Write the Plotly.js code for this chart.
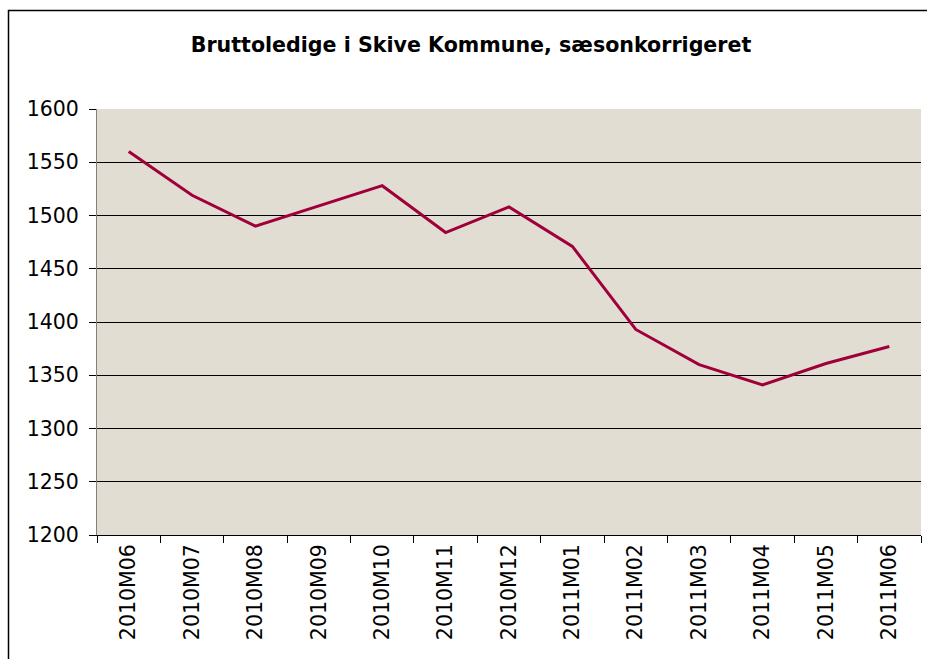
<!DOCTYPE html>
<html>
<head>
<meta charset="utf-8">
<script src="https://cdn.plot.ly/plotly-3.0.1.min.js"></script>
<style>html,body{margin:0;padding:0;background:#fff;}#chart{width:927px;height:659px;}</style>
</head>
<body>
<div id="chart"></div>
<script>
const months = ["2010M06","2010M07","2010M08","2010M09","2010M10","2010M11","2010M12","2011M01","2011M02","2011M03","2011M04","2011M05","2011M06"];
const ledige = [1560, 1519, 1490, 1509, 1528, 1484, 1508, 1471, 1393, 1360, 1341, 1361, 1377];
const yTicks = [1200, 1250, 1300, 1350, 1400, 1450, 1500, 1550, 1600];
const titleText = "Bruttoledige i Skive Kommune, sæsonkorrigeret";

const W = 927, H = 659;
const m = {l: 97, r: 6, t: 109, b: 124};
const pw = W - m.l - m.r, ph = H - m.t - m.b;
function px2x(p){ return (p - m.l) / pw; }
function py2y(p){ return (H - m.b - p) / ph; }

const trace = {
  x: months,
  y: ledige,
  type: "scatter",
  mode: "lines",
  line: {color: "#A0003A", width: 3},
  hoverinfo: "x+y"
};

const layout = {
  width: W, height: H,
  margin: m,
  paper_bgcolor: "#ffffff",
  plot_bgcolor: "#E1DDD3",
  showlegend: false,
  title: {
    text: "<b>" + titleText + "</b>",
    font: {family: "DejaVu Sans", size: 20.6, color: "#000"},
    x: (471 - m.l) / pw, xref: "paper", xanchor: "center",
    y: 1 - 45 / H, yref: "container", yanchor: "middle"
  },
  xaxis: {
    type: "category",
    range: [-0.5, months.length - 0.5],
    tickangle: -90,
    tickson: "boundaries",
    ticks: "outside", ticklen: 7, tickcolor: "#000", tickwidth: 1,
    showline: true, linecolor: "#000", linewidth: 1,
    showgrid: false,
    tickfont: {family: "DejaVu Sans", size: 20.5, color: "#000"},
    fixedrange: true
  },
  yaxis: {
    range: [1200, 1600],
    tickvals: yTicks,
    ticktext: yTicks.map(String),
    ticks: "outside", ticklen: 7, tickcolor: "#000", tickwidth: 1,
    ticklabelstandoff: 6,
    showline: true, linecolor: "#808080", linewidth: 1,
    showgrid: true, gridcolor: "#000", gridwidth: 1,
    zeroline: false,
    tickfont: {family: "DejaVu Sans", size: 20.5, color: "#000"},
    fixedrange: true
  },
  shapes: [{
    type: "rect", xref: "paper", yref: "paper",
    x0: px2x(8.5), x1: px2x(940), y0: py2y(680), y1: py2y(10.5),
    line: {color: "#000", width: 1.5}, fillcolor: "rgba(0,0,0,0)", layer: "below"
  }]
};

Plotly.newPlot("chart", [trace], layout, {displayModeBar: false, staticPlot: true});
</script>
</body>
</html>
